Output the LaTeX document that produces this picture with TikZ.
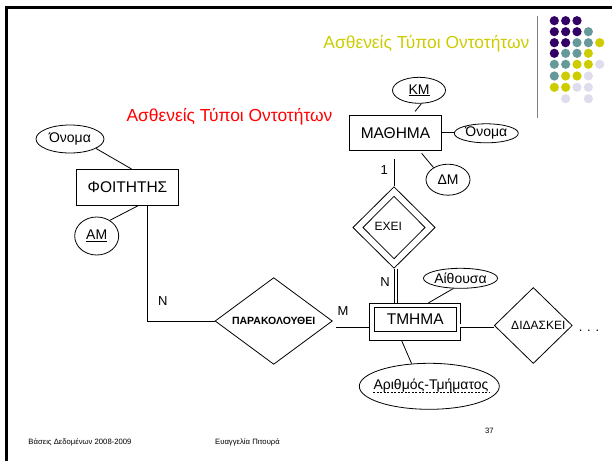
\documentclass[tikz,border=0pt]{standalone}
\usepackage{fontspec}
\setmainfont{Liberation Sans}
\usetikzlibrary{shapes.geometric,positioning}
\definecolor{dotP}{RGB}{51,0,102}
\definecolor{dotT}{RGB}{102,153,153}
\definecolor{dotY}{RGB}{204,204,0}
\definecolor{dotL}{RGB}{221,221,238}
\tikzset{%
  ent/.style={draw,rectangle,inner sep=0pt,font=\fontsize{15.5}{18}\selectfont},
  attr/.style={draw,ellipse,inner sep=0pt,font=\fontsize{14}{17}\selectfont},
  rel/.style={draw,diamond,inner sep=0pt,aspect=1},
  lbl/.style={inner sep=0pt,font=\fontsize{13}{15}\selectfont},
  title/.style={inner sep=0pt,font=\fontsize{17.4}{20}\selectfont},
  foot/.style={inner sep=0pt,font=\fontsize{7.7}{9}\selectfont},
  dlink/.style={draw,double,double distance=2.4pt}
}
\begin{document}
\begin{tikzpicture}[x=1pt,y=-1pt,line width=0.8pt]
\useasboundingbox (0,0) rectangle (612,461);
% slide frame and logo
\draw[line width=3pt] (6.5,461) -- (6.5,7.3) -- (612,7.3);
\draw[gray,line width=1.5pt] (537.7,16) -- (537.7,118);
\foreach \y/\row in {20.7/{dotP,dotP,dotP},31.7/{dotP,dotP,dotP,dotT},%
    42.7/{dotP,dotP,dotT,dotT,dotY},53.3/{dotP,dotT,dotT,dotY},%
    64.3/{dotT,dotT,dotY,dotY,dotL},76/{dotT,dotY,dotY,dotL},%
    87.3/{dotY,dotY,dotL,dotL},98.7/{white,dotL,white,dotL}}
  \foreach \c [count=\i] in \row
    \fill[\c] (542.95+11.35*\i,\y) circle (4.6pt);
\node[title,text=dotY] (titleA) at (426.4,43.3) {Ασθενείς Τύποι Οντοτήτων};
\node[title,text=red] (titleB) at (229.5,116.7) {Ασθενείς Τύποι Οντοτήτων};
% entities
\node[ent,minimum width=101.6pt,minimum height=36pt] (foititis) at (127.5,187.3) {ΦΟΙΤΗΤΗΣ};
\node[ent,minimum width=92.4pt,minimum height=35.7pt] (mathima) at (395.5,132.8) {ΜΑΘΗΜΑ};
\node[ent,minimum width=90.7pt,minimum height=36.7pt] (tmimaOut) at (414.7,321.7) {};
\node[ent,minimum width=81.7pt,minimum height=24.4pt] (tmima) at (415.2,319.5) {ΤΜΗΜΑ};
% attributes
\node[attr,minimum width=68pt,minimum height=28pt] (onomaF) at (70,139) {Όνομα};
\node[attr,minimum width=44pt,minimum height=38pt] (amF) at (96.7,236) {\underline{ΑΜ}};
\node[attr,minimum width=53pt,minimum height=26pt] (km) at (419,90.3) {\underline{ΚΜ}};
\node[attr,minimum width=64pt,minimum height=19pt] (onomaM) at (486.3,133.3) {Όνομα};
\node[attr,minimum width=44pt,minimum height=31pt] (dm) at (448,179.7) {ΔΜ};
\node[attr,minimum width=68pt,minimum height=20pt] (aithousa) at (460.5,278.3) {Αίθουσα};
\node[attr,minimum width=140pt,minimum height=46pt] (arithmos) at (429.3,386.3) {};
\node[attr,draw=none,shape=rectangle] (arithmosT) at (431,386) {Αριθμός-Τμήματος};
\draw[dash pattern=on 2pt off 1.5pt,line width=0.6pt]
  ([yshift=-2.5pt]arithmosT.base west) -- ([yshift=-2.5pt]arithmosT.base east);
% relationships
\node[rel,aspect=1.35,minimum width=117.3pt,minimum height=86.7pt,%
  font=\bfseries\fontsize{10.5}{12}\selectfont] (parak) at (273.7,321) {ΠΑΡΑΚΟΛΟΥΘΕΙ};
\node[rel,minimum width=82.4pt,minimum height=81.6pt] (exeiOut) at (394,227.5) {};
\node[rel,minimum width=62.4pt,minimum height=62.7pt] (exei) at (394,227.5) {};
\node[inner sep=0pt,font=\fontsize{12}{14}\selectfont] (exeiT) at (388.3,226.7) {ΕΧΕΙ};
\node[rel,minimum width=78pt,minimum height=76pt] (didaskei) at (533.3,325.5) {};
\node[inner sep=0pt,font=\fontsize{12}{14}\selectfont] (didaskeiT) at (538.3,325.5) {ΔΙΔΑΣΚΕΙ};
\node[lbl,anchor=base] (more) at (589,331.5) {. . .};
% connectors
\draw (onomaF.-20) -- (foititis.78);
\draw (amF.50) -- (foititis.-60);
\draw ([xshift=20pt]foititis.south) |- (parak.west);
\draw[shorten >=4pt] (km.-80) -- (mathima.47);
\draw (mathima.east) -- (mathima.east -| onomaM.west);
\draw[shorten <=3pt] (mathima.-37) -- (dm.140);
\draw[shorten <=7.5pt] (exeiOut.north |- mathima.south) -- (exeiOut.north);
\draw[dlink] ([xshift=2pt]exeiOut.south) -- ([xshift=2pt]exeiOut.south |- tmimaOut.north);
\draw[dlink,shorten <=3pt] ([yshift=-4.5pt]parak.east) -- ([yshift=-4.5pt]parak.east -| tmimaOut.west);
\draw[dlink] (tmimaOut.east |- didaskei.west) -- (didaskei.west);
\draw (aithousa.-125) -- (tmimaOut.54);
\draw (tmimaOut.-125) -- (arithmos.128);
% cardinalities
\node[lbl] (nFoititis) at (162.7,300.7) {N};
\node[lbl] (mTmima) at (343,311) {M};
\node[lbl] (oneMathima) at (384.3,170) {1};
\node[lbl] (nTmima) at (385,281.7) {N};
% footer
\node[foot] (footA) at (80,442.7) {Βάσεις Δεδομένων 2008-2009};
\node[foot] (footB) at (247.5,442.7) {Ευαγγελία Πιτουρά};
\node[foot] (page) at (489.3,431) {37};
\end{tikzpicture}
\end{document}
